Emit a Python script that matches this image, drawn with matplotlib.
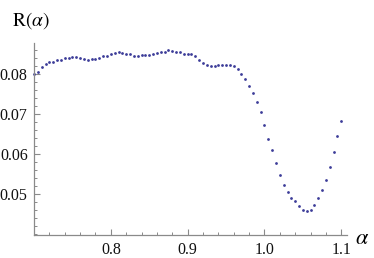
import numpy as np
import matplotlib
matplotlib.use("Agg")
import matplotlib.pyplot as plt
from matplotlib.ticker import MultipleLocator, FixedLocator

plt.rcParams['mathtext.fontset'] = 'stix'
plt.rcParams['font.family'] = ['Liberation Serif', 'DejaVu Serif']

# alpha grid, 0.70 .. 1.10 step 0.005
alpha = np.round(np.arange(0.70, 1.1001, 0.005), 3)

R = [0.0799, 0.0806, 0.0818, 0.0826, 0.0830, 0.0831, 0.0834, 0.0836, 0.0839, 0.0840,
     0.0842, 0.0842, 0.0841, 0.0837, 0.0835, 0.0837, 0.0838, 0.0841, 0.0844, 0.0846,
     0.0849, 0.0853, 0.0855, 0.0852, 0.0849, 0.0849, 0.0846, 0.0845, 0.0847, 0.0847,
     0.0848, 0.0849, 0.0852, 0.0854, 0.0856, 0.0859, 0.0858, 0.0856, 0.0855, 0.0851,
     0.0849, 0.0851, 0.0844, 0.0834, 0.0827, 0.0822, 0.0819, 0.0820, 0.0822, 0.0822,
     0.0823, 0.0822, 0.0821, 0.0812, 0.0801, 0.0788, 0.0771, 0.0752, 0.0731, 0.0704,
     0.0672, 0.0638, 0.0609, 0.0578, 0.0547, 0.0522, 0.0505, 0.0491, 0.0483, 0.0471,
     0.0461, 0.0458, 0.0461, 0.0473, 0.0491, 0.0510, 0.0536, 0.0568, 0.0604, 0.0645,
     0.0682]

xticks = [0.8, 0.9, 1.0, 1.1]
xlabels = ['0.8', '0.9', '1.0', '1.1']
yticks = [0.05, 0.06, 0.07, 0.08]
ylabels = ['0.05', '0.06', '0.07', '0.08']

fig = plt.figure(figsize=(3.74, 2.58), dpi=100)
ax = fig.add_axes([34 / 374, 23 / 258, 313 / 374, 192 / 258])

ax.plot(alpha, R, 'o', ms=2.0, color='#3d3d99', mec='none', clip_on=False)

ax.set_xlim(0.7, 1.1074)
ax.set_ylim(0.03975, 0.08775)

axcol = '#8a8a8a'
for s in ['top', 'right']:
    ax.spines[s].set_visible(False)
for s in ['left', 'bottom']:
    ax.spines[s].set_color(axcol)
    ax.spines[s].set_linewidth(0.9)

ax.xaxis.set_major_locator(FixedLocator(xticks))
ax.set_xticklabels(xlabels)
ax.xaxis.set_minor_locator(MultipleLocator(0.02))
ax.yaxis.set_major_locator(FixedLocator(yticks))
ax.set_yticklabels(ylabels)
ax.yaxis.set_minor_locator(MultipleLocator(0.002))

ax.tick_params(which='both', direction='in', color=axcol, labelsize=11.5, labelcolor='#111111')
ax.tick_params(which='major', length=4.5, width=0.8)
ax.tick_params(which='minor', length=2.5, width=0.7)
ax.tick_params(axis='x', pad=5)
ax.tick_params(axis='y', pad=4.5)

fig.text(12 / 374, 1 - 21 / 258, r'$\mathrm{R}(\alpha)$', fontsize=14, ha='left', va='center')
fig.text(355 / 374, 1 - 240 / 258, r'$\alpha$', fontsize=16, ha='left', va='center')

fig.savefig('out.png', dpi=100)
